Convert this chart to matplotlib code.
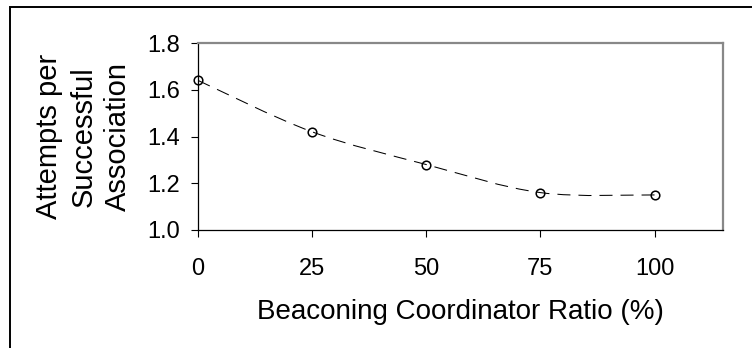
import matplotlib
matplotlib.use("Agg")
import matplotlib.pyplot as plt
from matplotlib.path import Path
from matplotlib.patches import PathPatch, Rectangle
import numpy as np

# Data
ratio = [0, 25, 50, 75, 100]
attempts = [1.64, 1.42, 1.28, 1.16, 1.15]
xticks = [0, 25, 50, 75, 100]
yticks = [1.0, 1.2, 1.4, 1.6, 1.8]
xlabel = "Beaconing Coordinator Ratio (%)"
ylabel = "Attempts per\nSuccessful\nAssociation"

plt.rcParams['font.family'] = ['Liberation Sans', 'DejaVu Sans']

W, H = 752, 348
fig = plt.figure(figsize=(W / 100, H / 100), dpi=100)
ax = fig.add_axes([198 / W, 1 - 230 / H, (723 - 198) / W, (230 - 43) / H])

# Outer frame (extends past the right and bottom edges)
fig.patches.append(Rectangle((10 / W, -0.2), 1.5, 1 - 7 / H + 0.2,
                             transform=fig.transFigure, fill=False,
                             edgecolor='black', lw=1.4))

# Smoothed line (Excel-style Bezier through points)
pts = np.column_stack([ratio, attempts]).astype(float)
n = len(pts)
verts = [tuple(pts[0])]
codes = [Path.MOVETO]
for i in range(n - 1):
    p0 = pts[i - 1] if i > 0 else pts[i]
    p1 = pts[i]
    p2 = pts[i + 1]
    p3 = pts[i + 2] if i + 2 < n else pts[i + 1]
    c1 = p1 + (p2 - p0) / 6.0
    c2 = p2 - (p3 - p1) / 6.0
    verts += [tuple(c1), tuple(c2), tuple(p2)]
    codes += [Path.CURVE4] * 3
patch = PathPatch(Path(verts, codes), fill=False, edgecolor='black',
                  lw=0.75, linestyle=(0, (12.5, 7.7)))
ax.add_patch(patch)

ax.plot(ratio, attempts, linestyle='none', marker='o', ms=6.2,
        mfc='none', mec='black', mew=1.1, clip_on=False, zorder=3)

ax.set_xlim(0, 115)
ax.set_ylim(1.0, 1.8)
ax.set_xticks(xticks)
ax.set_xticklabels([str(v) for v in xticks])
ax.set_yticks(yticks)
ax.set_yticklabels([f"{v:.1f}" for v in yticks])

ax.tick_params(axis='both', direction='out', length=5, width=0.8,
               colors='black', labelsize=17)
ax.tick_params(axis='x', pad=15)
ax.tick_params(axis='y', pad=8)

for s in ['left', 'bottom']:
    ax.spines[s].set_color('black')
    ax.spines[s].set_linewidth(0.9)
for s in ['top', 'right']:
    ax.spines[s].set_color('#888888')
    ax.spines[s].set_linewidth(1.6)

ax.set_xlabel(xlabel, fontsize=20, labelpad=14)
ax.set_ylabel(ylabel, fontsize=21, labelpad=11, linespacing=1.3)

fig.savefig("out.png", dpi=100)
